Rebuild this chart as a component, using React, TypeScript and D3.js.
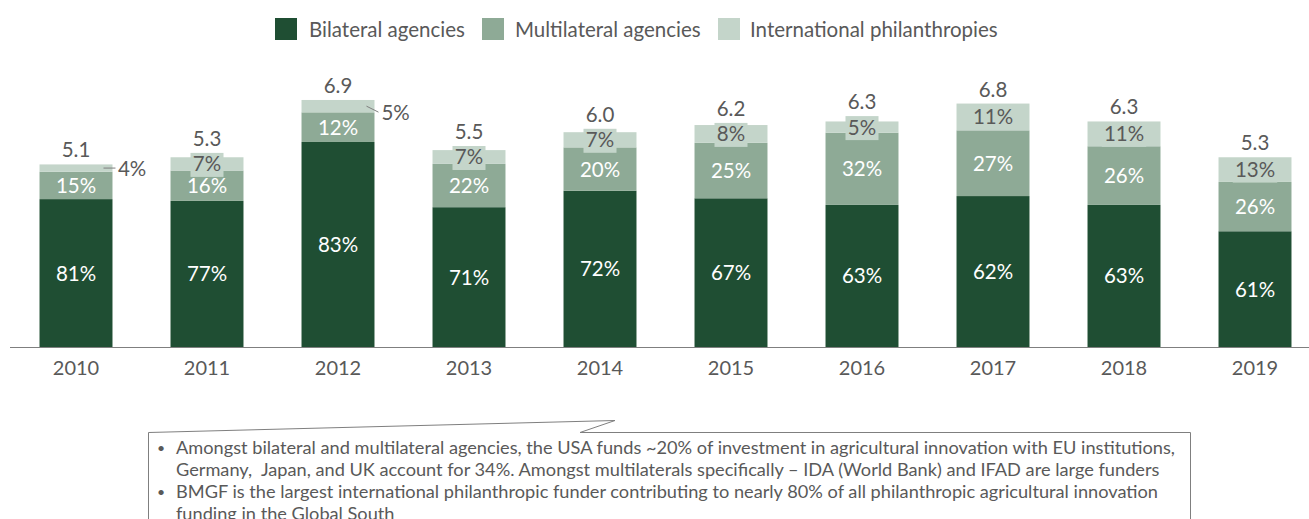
import React from "react";
import * as d3 from "d3";

const years = ["2010", "2011", "2012", "2013", "2014", "2015", "2016", "2017", "2018", "2019"];
const totals = [5.1, 5.3, 6.9, 5.5, 6.0, 6.2, 6.3, 6.8, 6.3, 5.3];
const bilateral = [81, 77, 83, 71, 72, 67, 63, 62, 63, 61];
const multilateral = [15, 16, 12, 22, 20, 25, 32, 27, 26, 26];
const philanthropic = [4, 7, 5, 7, 7, 8, 5, 11, 11, 13];
const outsideLabel = [true, false, true, false, false, false, false, false, false, false];

const seriesNames = ["Bilateral agencies", "Multilateral agencies", "International philanthropies"];
const colors = ["#1f4e33", "#8eaa96", "#c4d5ca"];
const textGrey = "#595959";

const bullets = [
  ["Amongst bilateral and multilateral agencies, the USA funds ~20% of investment in agricultural innovation with EU institutions,",
   "Germany,  Japan, and UK account for 34%. Amongst multilaterals specifically \u2013 IDA (World Bank) and IFAD are large funders"],
  ["BMGF is the largest international philanthropic funder contributing to nearly 80% of all philanthropic agricultural innovation",
   "funding in the Global South"],
];

const W = 1309, H = 519;
const FONT = "Lato, 'Open Sans', sans-serif";

export default function App() {
  const x = d3.scaleBand().domain(years).range([10.5, 1320.5]).paddingInner(0.443).paddingOuter(0.2215);
  const y = d3.scaleLinear().domain([0, 7]).range([347, 96.4]);
  const bw = x.bandwidth();
  const FS = 20.5;

  const bars = years.map((yr, i) => {
    const shares = [bilateral[i], multilateral[i], philanthropic[i]];
    const sum = d3.sum(shares);
    let acc = 0;
    const segs = shares.map((s, k) => {
      const v0 = (acc / sum) * totals[i];
      acc += s;
      const v1 = (acc / sum) * totals[i];
      return { k, s, y0: y(v0), y1: y(v1) };
    });
    return { yr, i, segs };
  });

  return (
    <svg width={W} height={H} style={{ position: "absolute", left: 0, top: 0, fontFamily: FONT }}>
      {/* legend */}
      {(() => {
        const items = [
          { x: 275, tx: 309 },
          { x: 482, tx: 515 },
          { x: 718, tx: 750 },
        ];
        return seriesNames.map((n, k) => (
          <g key={n}>
            <rect x={items[k].x} y={18} width={22} height={22} fill={colors[k]} />
            <text x={items[k].tx} y={36.5} fontSize={20.5} fill={textGrey}>{n}</text>
          </g>
        ));
      })()}

      {/* bars */}
      {bars.map(({ yr, i, segs }) => {
        const x0 = x(yr)!;
        const cx = x0 + bw / 2;
        const top = segs[2].y1;
        const light = segs[2];
        const lightMid = (light.y0 + light.y1) / 2;
        const lbl = `${philanthropic[i]}%`;
        const boxW = lbl.length * 11.5 + 10;
        let labelTop = top;
        if (!outsideLabel[i]) labelTop = Math.min(top, lightMid + 1 - 12);
        return (
          <g key={yr}>
            {segs.map((sg) => (
              <rect key={sg.k} x={x0} y={sg.y1} width={bw} height={sg.y0 - sg.y1} fill={colors[sg.k]} />
            ))}
            {segs.slice(0, 2).map((sg) => (
              <text key={"t" + sg.k} x={cx} y={(sg.y0 + sg.y1) / 2 + 7.5} textAnchor="middle" fontSize={FS} fill="#ffffff">
                {sg.s}%
              </text>
            ))}
            {outsideLabel[i] ? (
              <g>
                {i === 0 ? (
                  <line x1={x0 + bw - 9} y1={lightMid} x2={x0 + bw + 3} y2={lightMid} stroke="#7f7f7f" strokeWidth={1} />
                ) : (
                  <line x1={x0 + bw - 8} y1={lightMid} x2={x0 + bw + 4} y2={lightMid + 6} stroke="#7f7f7f" strokeWidth={1} />
                )}
                <text x={x0 + bw + (i === 0 ? 5.5 : 7)} y={lightMid + (i === 0 ? 7.5 : 14)} fontSize={FS} fill={textGrey}>{lbl}</text>
              </g>
            ) : (
              <g>
                <rect x={cx - boxW / 2} y={lightMid + 1 - 12} width={boxW} height={24} fill={colors[2]} />
                <text x={cx} y={lightMid + 7.5} textAnchor="middle" fontSize={FS} fill={textGrey}>{lbl}</text>
              </g>
            )}
            <text x={cx} y={labelTop - 7} textAnchor="middle" fontSize={FS} fill={textGrey}>
              {totals[i].toFixed(1)}
            </text>
            <text x={cx} y={374.5} textAnchor="middle" fontSize={20} fill={textGrey}>{yr}</text>
          </g>
        );
      })}

      {/* axis */}
      <line x1={10} y1={347.5} x2={1309} y2={347.5} stroke="#7f7f7f" strokeWidth={1.2} />

      {/* callout */}
      <path
        d="M148.5,540 L148.5,432.5 L615,420.5 L580,432.5 L1190.5,432.5 L1190.5,540"
        fill="none"
        stroke="#7f7f7f"
        strokeWidth={1}
      />
      {bullets.map((b, bi) => (
        <g key={bi}>
          <text x={157} y={453 + bi * 44} fontSize={14} fill={textGrey}>•</text>
          {b.map((line, li) => (
            <text key={li} x={176} y={454 + bi * 44 + li * 21.5} fontSize={18.2} fill={textGrey} style={{ whiteSpace: "pre" }}>
              {line}
            </text>
          ))}
        </g>
      ))}
    </svg>
  );
}
